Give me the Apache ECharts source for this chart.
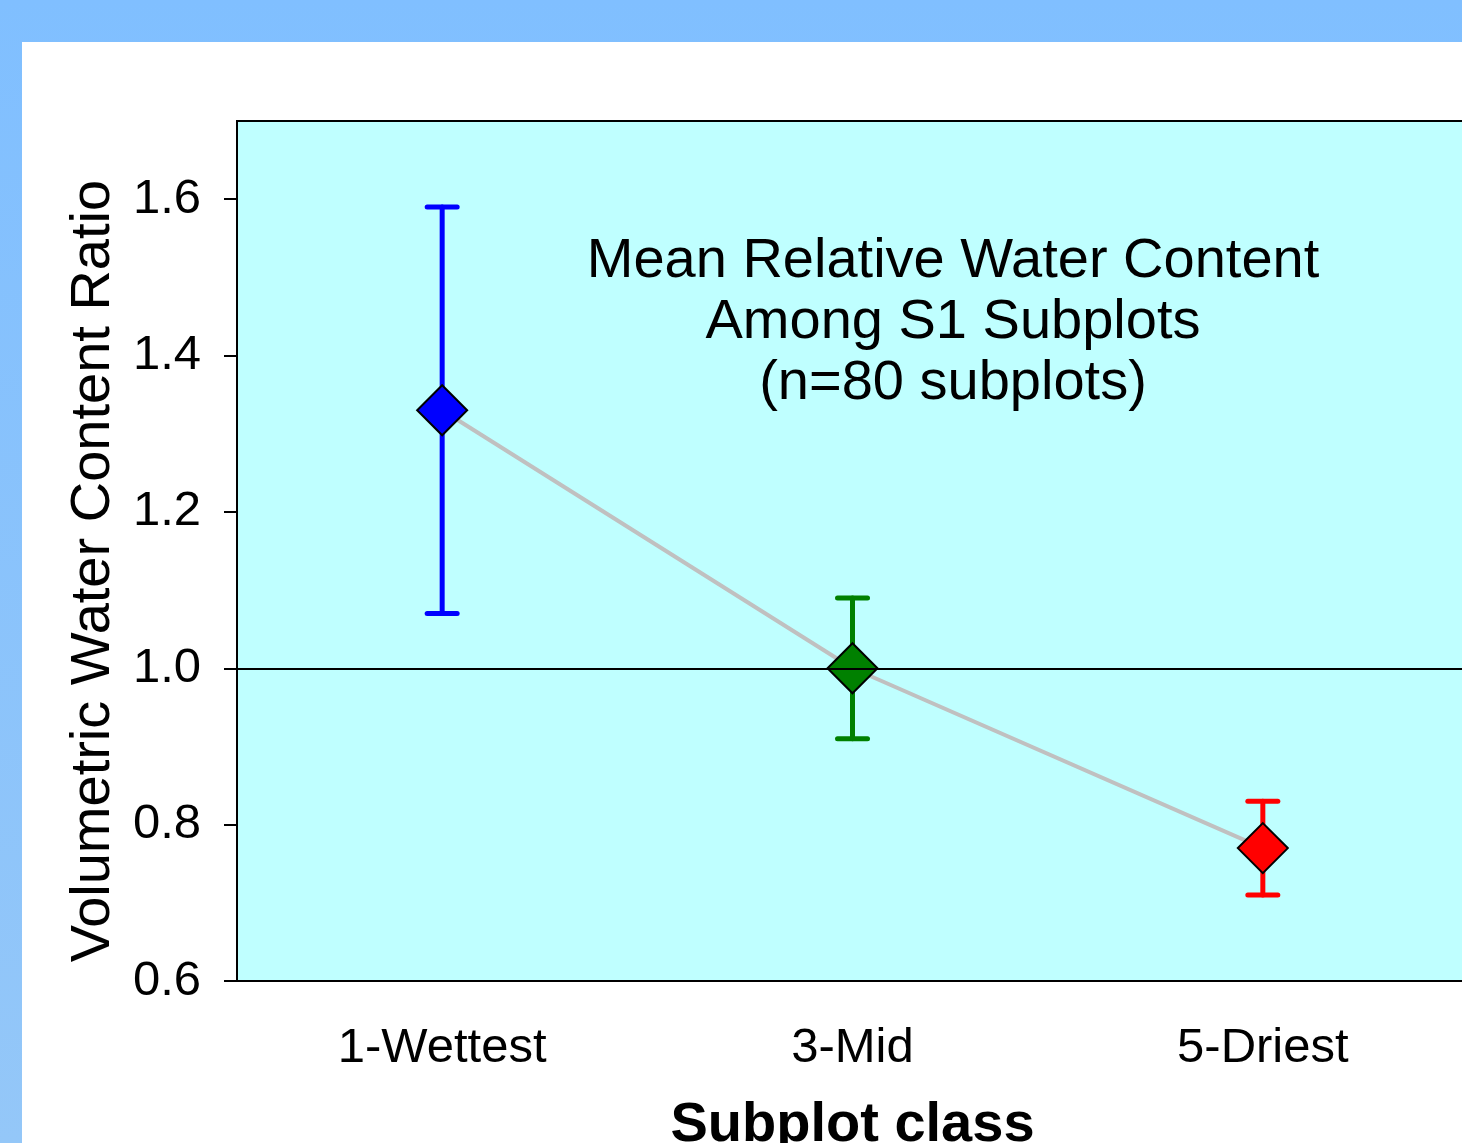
<!DOCTYPE html>
<html>
<head>
<meta charset="utf-8">
<script src="https://cdn.jsdelivr.net/npm/echarts@6/dist/echarts.min.js"></script>
<style>
    html, body { margin: 0; padding: 0; }
    body {
        width: 1462px; height: 1143px; overflow: hidden; position: relative;
        background: linear-gradient(to bottom, #80bfff 0%, #94c7f8 100%);
    }
    #chart1 {
        position: absolute; left: 22px; top: 42px;
        width: 1440px; height: 1101px; background: #ffffff;
    }
</style>
</head>
<body>
<div id="chart1"></div>
<script>
    // 数据
    var categories = ['1-Wettest', '3-Mid', '5-Driest'];
    var meanValues = [1.33, 1.00, 0.77];
    var upperValues = [1.59, 1.09, 0.83];
    var lowerValues = [1.07, 0.91, 0.71];
    var yTicks = [0.6, 0.8, 1.0, 1.2, 1.4, 1.6];
    var titleLines = ['Mean Relative Water Content', 'Among S1 Subplots', '(n=80 subplots)'];

    var pointColors = ['#0000ff', '#008000', '#ff0000'];
    var font = 'Liberation Sans, Arial, sans-serif';

    var mychart = echarts.init(document.getElementById('chart1'));

    var barData = [];
    var pointData = [];
    for (var i = 0; i < categories.length; i++) {
        barData.push([i, lowerValues[i], upperValues[i]]);
        pointData.push({
            value: [i, meanValues[i]],
            itemStyle: { color: pointColors[i] }
        });
    }

    var option = {
        animation: false,
        grid: {
            left: 215, top: 79, width: 1231, height: 860,
            outerBoundsMode: 'none',
            containLabel: false,
            show: true,
            backgroundColor: '#bfffff',
            borderColor: '#000000',
            borderWidth: 2
        },
        graphic: [{
            type: 'text',
            x: 931, y: 189,
            style: {
                text: titleLines.join('\n'),
                font: '56px ' + font,
                lineHeight: 61,
                fill: '#000000',
                align: 'center',
                verticalAlign: 'top'
            },
            z: 10
        }],
        xAxis: {
            type: 'category',
            data: categories,
            boundaryGap: true,
            name: 'Subplot class',
            nameLocation: 'middle',
            nameGap: 117,
            nameTextStyle: { fontFamily: font, fontSize: 56, fontWeight: 'bold', color: '#000' },
            axisLine: { lineStyle: { color: '#000', width: 2 } },
            axisTick: { alignWithLabel: true, length: 13, lineStyle: { color: '#000', width: 2 } },
            axisLabel: { fontFamily: font, fontSize: 49, color: '#000', margin: 43 },
            splitLine: { show: false }
        },
        yAxis: {
            type: 'value',
            min: 0.6,
            max: 1.7,
            interval: 0.2,
            name: 'Volumetric Water Content Ratio',
            nameLocation: 'middle',
            nameGap: 107,
            nameTextStyle: { fontFamily: font, fontSize: 56, color: '#000', padding: [0, 40, 0, 0] },
            axisLine: { show: true, lineStyle: { color: '#000', width: 2 } },
            axisTick: { show: true, length: 13, customValues: yTicks, lineStyle: { color: '#000', width: 2 } },
            axisLabel: {
                fontFamily: font, fontSize: 49, color: '#000', margin: 36,
                customValues: yTicks,
                formatter: function (v) { return v.toFixed(1); }
            },
            splitLine: { show: false }
        },
        series: [{
            name: 'trend',
            type: 'line',
            data: meanValues,
            symbol: 'none',
            lineStyle: { color: '#c0c0c0', width: 4 },
            z: 2,
            markLine: {
                silent: true,
                symbol: 'none',
                label: { show: false },
                lineStyle: { color: '#000', width: 2, type: 'solid' },
                data: [{ yAxis: 1.0 }]
            }
        }, {
            name: 'errorbar',
            type: 'custom',
            data: barData,
            z: 3,
            renderItem: function (params, api) {
                var x = api.value(0);
                var lo = api.coord([x, api.value(1)]);
                var hi = api.coord([x, api.value(2)]);
                var half = 15;
                var style = { stroke: pointColors[params.dataIndex], lineWidth: 5, lineCap: 'round' };
                return {
                    type: 'group',
                    children: [
                        { type: 'line', shape: { x1: hi[0], y1: hi[1], x2: lo[0], y2: lo[1] }, style: style },
                        { type: 'line', shape: { x1: hi[0] - half, y1: hi[1], x2: hi[0] + half, y2: hi[1] }, style: style },
                        { type: 'line', shape: { x1: lo[0] - half, y1: lo[1], x2: lo[0] + half, y2: lo[1] }, style: style }
                    ]
                };
            }
        }, {
            name: 'mean',
            type: 'scatter',
            data: pointData,
            symbol: 'diamond',
            symbolSize: 50,
            itemStyle: { borderColor: '#000', borderWidth: 2, opacity: 1 },
            z: 4
        }]
    };

    mychart.setOption(option);
</script>
</body>
</html>
